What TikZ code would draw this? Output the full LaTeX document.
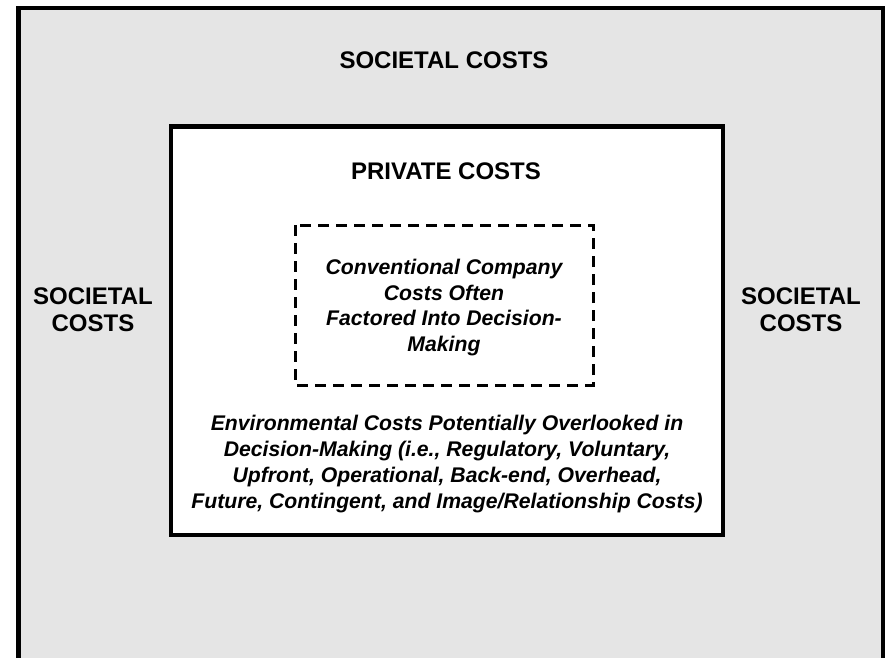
\documentclass[tikz,border=0pt]{standalone}
\usepackage{fontspec}
\setmainfont{Liberation Sans}
\definecolor{societal}{HTML}{E5E5E5}
\begin{document}
\begin{tikzpicture}[x=1pt,y=-1pt,
  frame/.style={line width=4.5pt},
  dashframe/.style={line width=3pt,dash pattern=on 11pt off 7pt},
  caps/.style={font=\fontsize{24}{27}\selectfont\bfseries,align=center,inner sep=0pt},
  ital/.style={font=\fontsize{21.2}{25.7}\selectfont\bfseries\itshape,align=center,inner sep=0pt}]
\useasboundingbox (0,0) rectangle (886,658);
\clip (0,0) rectangle (886,658);
\fill[white] (0,0) rectangle (886,658);
\draw[frame,fill=societal] (18.5,8) rectangle (883,700);
\draw[frame,fill=white] (171,126.5) rectangle (723,535);
\draw[dashframe] (295,225) rectangle (593,385);
\node[caps] (top) at (444,60) {SOCIETAL COSTS};
\node[caps] (left) at (93,310) {SOCIETAL\\COSTS};
\node[caps] (right) at (801,310) {SOCIETAL\\COSTS};
\node[caps] (private) at (446,171) {PRIVATE COSTS};
\node[ital] (conv) at (444,307.5) {Conventional Company\\Costs Often\\Factored Into Decision-\\Making};
\node[ital] (env) at (447,464) {Environmental Costs Potentially Overlooked in\\Decision-Making (i.e., Regulatory, Voluntary,\\Upfront, Operational, Back-end, Overhead,\\Future, Contingent, and Image/Relationship Costs)};
\end{tikzpicture}
\end{document}
